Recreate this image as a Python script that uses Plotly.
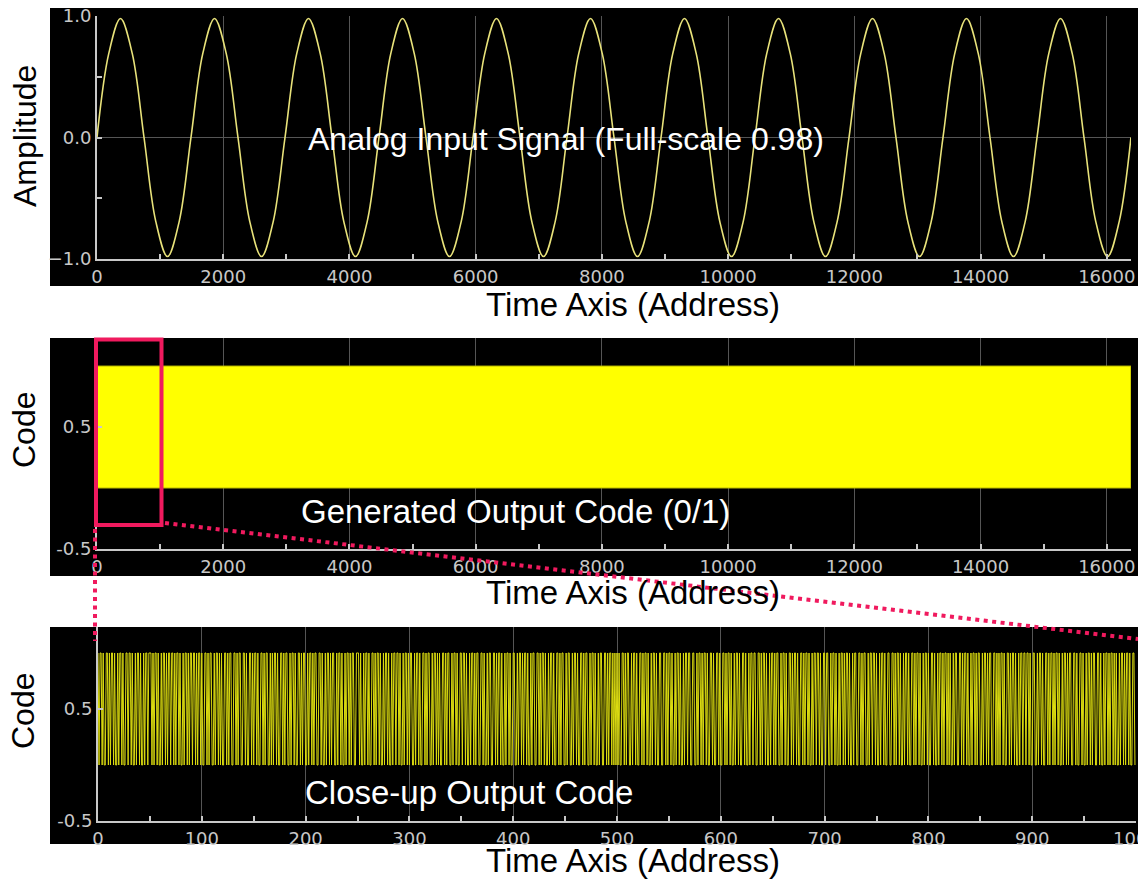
import plotly.graph_objects as go

W, H = 1138, 880

# ---------------- data ----------------
# analog input: sample addresses and amplitudes read at eighth-cycle points (11 cycles, full-scale 0.98)
SINE_ADDR = [0, 186, 372, 559, 745, 931, 1117, 1303, 1489,
             1676, 1862, 2048, 2234, 2420, 2607, 2793, 2979,
             3165, 3351, 3537, 3724, 3910, 4096, 4282, 4468,
             4655, 4841, 5027, 5213, 5399, 5585, 5772, 5958,
             6144, 6330, 6516, 6703, 6889, 7075, 7261, 7447,
             7633, 7820, 8006, 8192, 8378, 8564, 8751, 8937,
             9123, 9309, 9495, 9681, 9868, 10054, 10240, 10426,
             10612, 10799, 10985, 11171, 11357, 11543, 11729, 11916,
             12102, 12288, 12474, 12660, 12847, 13033, 13219, 13405,
             13591, 13777, 13964, 14150, 14336, 14522, 14708, 14895,
             15081, 15267, 15453, 15639, 15825, 16012, 16198, 16383]
SINE_AMP = [0.0, 0.69, 0.98, 0.69, 0.0, -0.69, -0.98, -0.69, 0.0,
            0.69, 0.98, 0.69, 0.0, -0.69, -0.98, -0.69, 0.0,
            0.69, 0.98, 0.69, 0.0, -0.69, -0.98, -0.69, 0.0,
            0.69, 0.98, 0.69, 0.0, -0.69, -0.98, -0.69, 0.0,
            0.69, 0.98, 0.69, 0.0, -0.69, -0.98, -0.69, 0.0,
            0.69, 0.98, 0.69, 0.0, -0.69, -0.98, -0.69, 0.0,
            0.69, 0.98, 0.69, 0.0, -0.69, -0.98, -0.69, 0.0,
            0.69, 0.98, 0.69, 0.0, -0.69, -0.98, -0.69, 0.0,
            0.69, 0.98, 0.69, 0.0, -0.69, -0.98, -0.69, 0.0,
            0.69, 0.98, 0.69, 0.0, -0.69, -0.98, -0.69, 0.0,
            0.69, 0.98, 0.69, 0.0, -0.69, -0.98, -0.69, 0.0]

# full output code: dense 0/1 stream over all addresses (renders as a solid band)
CODE_ADDR = [0, 16383, 16383, 0, 0]
CODE_LEVEL = [1, 1, 0, 0, 1]

# close-up of the first 1000 output codes
CLOSEUP_BITS = (
    "1011010011" "0101101001" "0110100110" "1101001011" "0100101101"
    "1101011010" "0101101011" "0110101101" "0010110101" "1011010110"
    "1001101011" "0010110101" "0011010110" "0110101100" "1101001101"
    "0110100110" "1011001010" "1101001101" "0110010110" "1001101011"
    "0010110101" "1001101001" "0110101100" "1011010010" "1101011001"
    "1101001011" "0100110101" "1010010110" "1001011011" "0100101101"
    "0110010110" "1001101011" "0010110101" "0011010110" "0101101001"
    "1011010010" "1101011001" "1010010110" "0110101101" "0010110100"
    "1100101101" "0110100101" "1001101011" "0100101101" "0011010110"
    "0101100101" "1010011010" "1100101101" "0010110011" "0101101010"
    "1010011010" "1100101101" "0011010110" "1001011010" "0110011010"
    "1101001011" "0100101101" "1001100101" "1010110100" "1101001101"
    "0011010110" "1001011010" "0110100101" "1011001101" "0110100101"
    "1010110010" "1101001101" "0110100110" "1011010010" "1101101001"
    "1011001011" "0100101101" "0110100101" "1001101011" "0010110110"
    "1001011010" "0110011010" "1101001011" "0100110101" "1010010110"
    "1001101001" "0110101101" "0100101100" "1101011010" "0101101011"
    "0010110101" "1001101010" "1101001101" "0110100101" "1011011010"
    "0110010110" "1001101011" "0101101001" "0110101100" "1101001101"
    "0010110101" "1001101001" "0110101101" "0100101101" "0110100110"
)
CLOSEUP_CODE = [int(c) for c in CLOSEUP_BITS]
CLOSEUP_ADDR = list(range(len(CLOSEUP_CODE)))

PANEL_TEXT = ["Analog Input Signal (Full-scale 0.98)",
              "Generated Output Code (0/1)",
              "Close-up Output Code"]
X_TITLE = "Time Axis (Address)"
Y_TITLES = ["Amplitude", "Code", "Code"]


# ---------------- helpers ----------------
def px(x):
    return x / W


def py(y):
    return 1 - y / H


AXC = "#c8c8c8"
TICK_FONT = dict(family="DejaVu Sans", size=18, color=AXC)
AX_COMMON = dict(showline=True, linecolor=AXC, linewidth=2, automargin=False,
                 ticks="inside", ticklen=5, tickwidth=2, tickcolor=AXC,
                 tickfont=TICK_FONT, zeroline=False, mirror=False,
                 ticklabeloverflow="allow")
MINOR = dict(ticks="inside", ticklen=5, tickwidth=2, tickcolor=AXC, showgrid=False)
GRID = "#555555"

fig = go.Figure()

fig.add_trace(go.Scatter(x=SINE_ADDR, y=SINE_AMP, mode="lines",
                         line=dict(color="#e8e27a", width=1.6, shape="spline"),
                         xaxis="x", yaxis="y", hoverinfo="skip"))
fig.add_trace(go.Scatter(x=CODE_ADDR, y=CODE_LEVEL, mode="lines", fill="toself",
                         fillcolor="#ffff00", line=dict(color="#b8b800", width=1),
                         xaxis="x2", yaxis="y2", hoverinfo="skip"))
fig.add_trace(go.Scatter(x=CLOSEUP_ADDR, y=CLOSEUP_CODE, mode="lines",
                         line=dict(color="#dcdc10", width=1),
                         xaxis="x3", yaxis="y3", hoverinfo="skip"))

# panels (pixel geometry)
P1 = dict(x0=97, x1=1131, y0=16, y1=259)
P2 = dict(x0=97, x1=1131, y0=338, y1=549)
P3 = dict(x0=98, x1=1136, y0=627, y1=821)

fig.update_layout(
    template="none",
    width=W, height=H, margin=dict(l=0, r=0, t=0, b=0, autoexpand=False),
    paper_bgcolor="white", plot_bgcolor="black", showlegend=False,
    xaxis=dict(domain=[px(P1["x0"]), px(P1["x1"])], range=[0, 16384], anchor="y",
               dtick=2000, tick0=0, tickformat="d", showgrid=True, gridcolor=GRID, gridwidth=1,
               minor=dict(dtick=1000, **MINOR), **AX_COMMON),
    yaxis=dict(domain=[py(P1["y1"]), py(P1["y0"])], range=[-1, 1], anchor="x",
               dtick=1, tick0=-1, tickformat=".1f", showgrid=True, gridcolor=GRID, gridwidth=1,
               minor=dict(dtick=0.5, **MINOR), **AX_COMMON),
    xaxis2=dict(domain=[px(P2["x0"]), px(P2["x1"])], range=[0, 16384], anchor="y2",
                dtick=2000, tick0=0, tickformat="d", showgrid=True, gridcolor=GRID, gridwidth=1,
                minor=dict(dtick=1000, **MINOR), **AX_COMMON),
    yaxis2=dict(domain=[py(P2["y1"]), py(P2["y0"])], range=[-0.5, 1.23], anchor="x2",
                tickvals=[-0.5, 0.5], ticktext=["-0.5", "0.5"], showgrid=False, **AX_COMMON),
    xaxis3=dict(domain=[px(P3["x0"]), px(P3["x1"])], range=[0, 1000], anchor="y3",
                dtick=100, tick0=0, tickformat="d", showgrid=True, gridcolor=GRID, gridwidth=1,
                minor=dict(dtick=50, **MINOR), **AX_COMMON),
    yaxis3=dict(domain=[py(P3["y1"]), py(P3["y0"])], range=[-0.5, 1.232], anchor="x3",
                tickvals=[-0.5, 0.5], ticktext=["-0.5", "0.5"], showgrid=False, **AX_COMMON),
)

# black panel backgrounds
shapes = []
for top, bot in [(8, 286), (338, 576), (627, 844)]:
    shapes.append(dict(type="rect", xref="paper", yref="paper", layer="below",
                       x0=px(50), x1=1.0, y0=py(bot), y1=py(top),
                       fillcolor="black", line=dict(width=0)))

PINK = "#f01a5e"
shapes.append(dict(type="rect", xref="paper", yref="paper", layer="above",
                   x0=px(96), x1=px(161.5), y0=py(525), y1=py(339.5),
                   line=dict(color=PINK, width=4), fillcolor="rgba(0,0,0,0)"))
shapes.append(dict(type="line", xref="paper", yref="paper", layer="above",
                   x0=px(95), x1=px(95), y0=py(529), y1=py(641),
                   line=dict(color=PINK, width=4, dash="4px,4.5px")))
shapes.append(dict(type="line", xref="paper", yref="paper", layer="above",
                   x0=px(165), x1=px(1138), y0=py(523), y1=py(639),
                   line=dict(color=PINK, width=4, dash="4px,4.5px")))
fig.update_layout(shapes=shapes)

FAM = "Liberation Sans, Arial, sans-serif"
ann = []
for (cx, cy), txt, fs in zip([(566, 139), (515, 511), (469, 792)], PANEL_TEXT, [32, 33, 33]):
    ann.append(dict(x=px(cx), y=py(cy), xref="paper", yref="paper", text=txt,
                    showarrow=False, xanchor="center", yanchor="middle",
                    font=dict(family=FAM, size=fs, color="white")))
for cy in [304, 592, 860]:
    ann.append(dict(x=px(633), y=py(cy), xref="paper", yref="paper", text=X_TITLE,
                    showarrow=False, xanchor="center", yanchor="middle",
                    font=dict(family=FAM, size=33, color="black")))
for (cx, cy), txt in zip([(25, 136), (24, 430), (23, 711)], Y_TITLES):
    ann.append(dict(x=px(cx), y=py(cy), xref="paper", yref="paper", text=txt, textangle=-90,
                    showarrow=False, xanchor="center", yanchor="middle",
                    font=dict(family=FAM, size=32, color="black")))
fig.update_layout(annotations=ann)

fig.write_html("out.html", config={"displayModeBar": False},
               post_script="document.body.style.margin='0';document.body.style.overflow='hidden';")
